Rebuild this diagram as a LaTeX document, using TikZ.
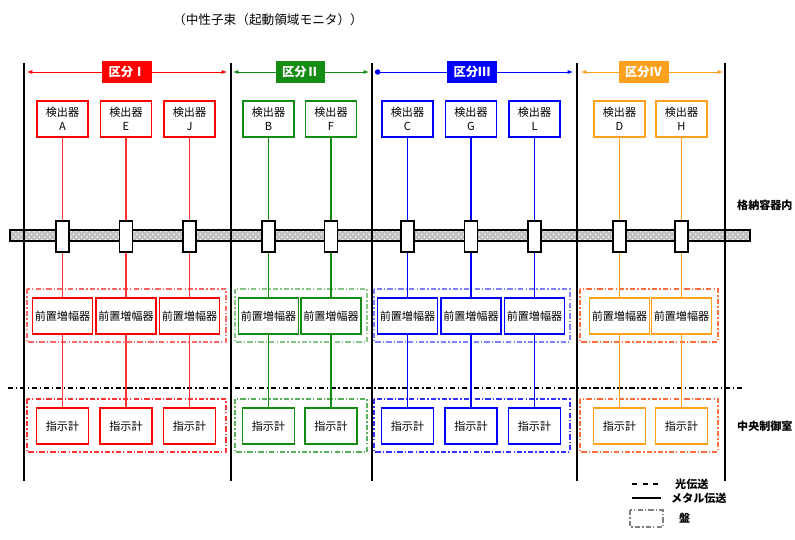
\documentclass[tikz,border=0pt]{standalone}
\usepackage{fontspec}
\setmainfont{Noto Sans CJK JP}
\usetikzlibrary{arrows.meta,patterns}

\definecolor{kred}{RGB}{255,0,0}
\definecolor{kgreen}{RGB}{20,140,20}
\definecolor{kblue}{RGB}{0,0,255}
\definecolor{korange}{RGB}{255,160,30}
\definecolor{kpanelor}{RGB}{255,110,60}

\tikzset{
  box/.style={draw=#1, line width=0.9pt, fill=white, inner sep=0pt, align=center, font=\fontsize{6.3}{8}\selectfont},
  detbox/.style={box=#1, minimum width=1.02cm, minimum height=0.72cm},
  ampbox/.style={box=#1, minimum width=1.2cm, minimum height=0.72cm},
  indbox/.style={box=#1, minimum width=1.04cm, minimum height=0.72cm},
  penbox/.style={draw, line width=0.8pt, fill=white, minimum width=0.26cm, minimum height=0.62cm, inner sep=0pt},
  secbox/.style={fill=#1, text=white, font=\bfseries\fontsize{7}{8}\selectfont, minimum width=1cm, minimum height=0.44cm, inner sep=0pt},
  panel/.style={draw=#1, line width=0.8pt, dash pattern=on 3pt off 1.2pt on 0.8pt off 1.2pt},
  wall/.style={line width=1pt},
  sidelabel/.style={anchor=west, font=\bfseries\fontsize{6.3}{8}\selectfont},
}

\begin{document}
\begin{tikzpicture}[x=0.02cm, y=-0.02cm]
  \useasboundingbox (0,0) rectangle (795,540);

  % title
  \node[font=\fontsize{7.2}{9}\selectfont] (title) at (268,20) {（中性子束（起動領域モニタ））};

  % containment pipe
  \fill[gray!50] (10,230) rectangle (750,241);
  \fill[pattern=crosshatch dots, pattern color=white] (10,230) rectangle (750,241);
  \draw[line width=0.9pt] (10,230) rectangle (750,241);

  % walls between divisions
  \foreach \x in {24,231,372,577,725}
    \draw[wall] (\x,63) -- (\x,481);
  \draw[line width=0.8pt, dash pattern=on 3pt off 1.5pt on 0.8pt off 1.5pt] (8,388) -- (743,388);

  % 区分I
  \draw[kred, {Latex[length=3pt]}-{Latex[length=3pt]}] (27,72) -- (227,72);
  \node[secbox=kred] (sec1) at (127,72) {区分Ⅰ};
  \draw[panel=kred!60] (27,289) rectangle (226,342);
  \draw[panel=kred!80] (27,399) rectangle (226,452);
  \foreach \n/\x in {A/62.5,E/126,J/189.5} {
    \node[detbox=kred] (d\n) at (\x,119) {検出器\\\n};
    \node[penbox] (p\n) at (\x,236.5) {};
    \node[ampbox=kred] (a\n) at (\x,316) {前置増幅器};
    \node[indbox=kred] (i\n) at (\x,426) {指示計};
    \draw[kred!80, line width=0.8pt] (d\n) -- (p\n) -- (a\n) -- (i\n);
  }

  % 区分II
  \draw[kgreen, {Latex[length=3pt]}-{Latex[length=3pt]}] (233,72) -- (369,72);
  \node[secbox=kgreen] (sec2) at (300.5,72) {区分Ⅱ};
  \draw[panel=kgreen!50] (235,289) rectangle (367,342);
  \draw[panel=kgreen!70] (235,399) rectangle (367,452);
  \foreach \n/\x in {B/268.5,F/331} {
    \node[detbox=kgreen] (d\n) at (\x,119) {検出器\\\n};
    \node[penbox] (p\n) at (\x,236.5) {};
    \node[ampbox=kgreen] (a\n) at (\x,316) {前置増幅器};
    \node[indbox=kgreen] (i\n) at (\x,426) {指示計};
    \draw[kgreen, line width=0.8pt] (d\n) -- (p\n) -- (a\n) -- (i\n);
  }

  % 区分III
  \draw[kblue, {Circle[length=3pt]}-{Latex[length=3pt]}] (375,72) -- (573,72);
  \node[secbox=kblue] (sec3) at (472,72) {区分Ⅲ};
  \draw[panel=kblue!50] (374,289) rectangle (570,342);
  \draw[panel=kblue!80] (374,399) rectangle (570,452);
  \foreach \n/\x in {C/407.5,G/471,L/534.5} {
    \node[detbox=kblue] (d\n) at (\x,119) {検出器\\\n};
    \node[penbox] (p\n) at (\x,236.5) {};
    \node[ampbox=kblue] (a\n) at (\x,316) {前置増幅器};
    \node[indbox=kblue] (i\n) at (\x,426) {指示計};
    \draw[kblue, line width=0.8pt] (d\n) -- (p\n) -- (a\n) -- (i\n);
  }

  % 区分IV
  \draw[korange, {Latex[length=3pt]}-{Latex[length=3pt]}] (581,72) -- (723,72);
  \node[secbox=korange] (sec4) at (643.5,72) {区分Ⅳ};
  \draw[panel=kpanelor] (580,289) rectangle (718,342);
  \draw[panel=kpanelor] (580,399) rectangle (718,452);
  \foreach \n/\x in {D/619.5,H/681.5} {
    \node[detbox=korange] (d\n) at (\x,119) {検出器\\\n};
    \node[penbox] (p\n) at (\x,236.5) {};
    \node[ampbox=korange] (a\n) at (\x,316) {前置増幅器};
    \node[indbox=korange] (i\n) at (\x,426) {指示計};
    \draw[korange, line width=0.8pt] (d\n) -- (p\n) -- (a\n) -- (i\n);
  }

  % area labels
  \node[sidelabel] (inner) at (731,205) {格納容器内};
  \node[sidelabel] (mcr) at (731,426) {中央制御室};

  % legend
  \draw[line width=0.8pt, dashed] (632,484) -- (660,484);
  \node[sidelabel] (lopt) at (669,484) {光伝送};
  \draw[line width=0.8pt] (632,498) -- (661,498);
  \node[sidelabel] (lmet) at (665,498) {メタル伝送};
  \draw[panel=gray] (630,510) rectangle (663,527);
  \node[sidelabel] (lpan) at (673,518) {盤};
\end{tikzpicture}
\end{document}
